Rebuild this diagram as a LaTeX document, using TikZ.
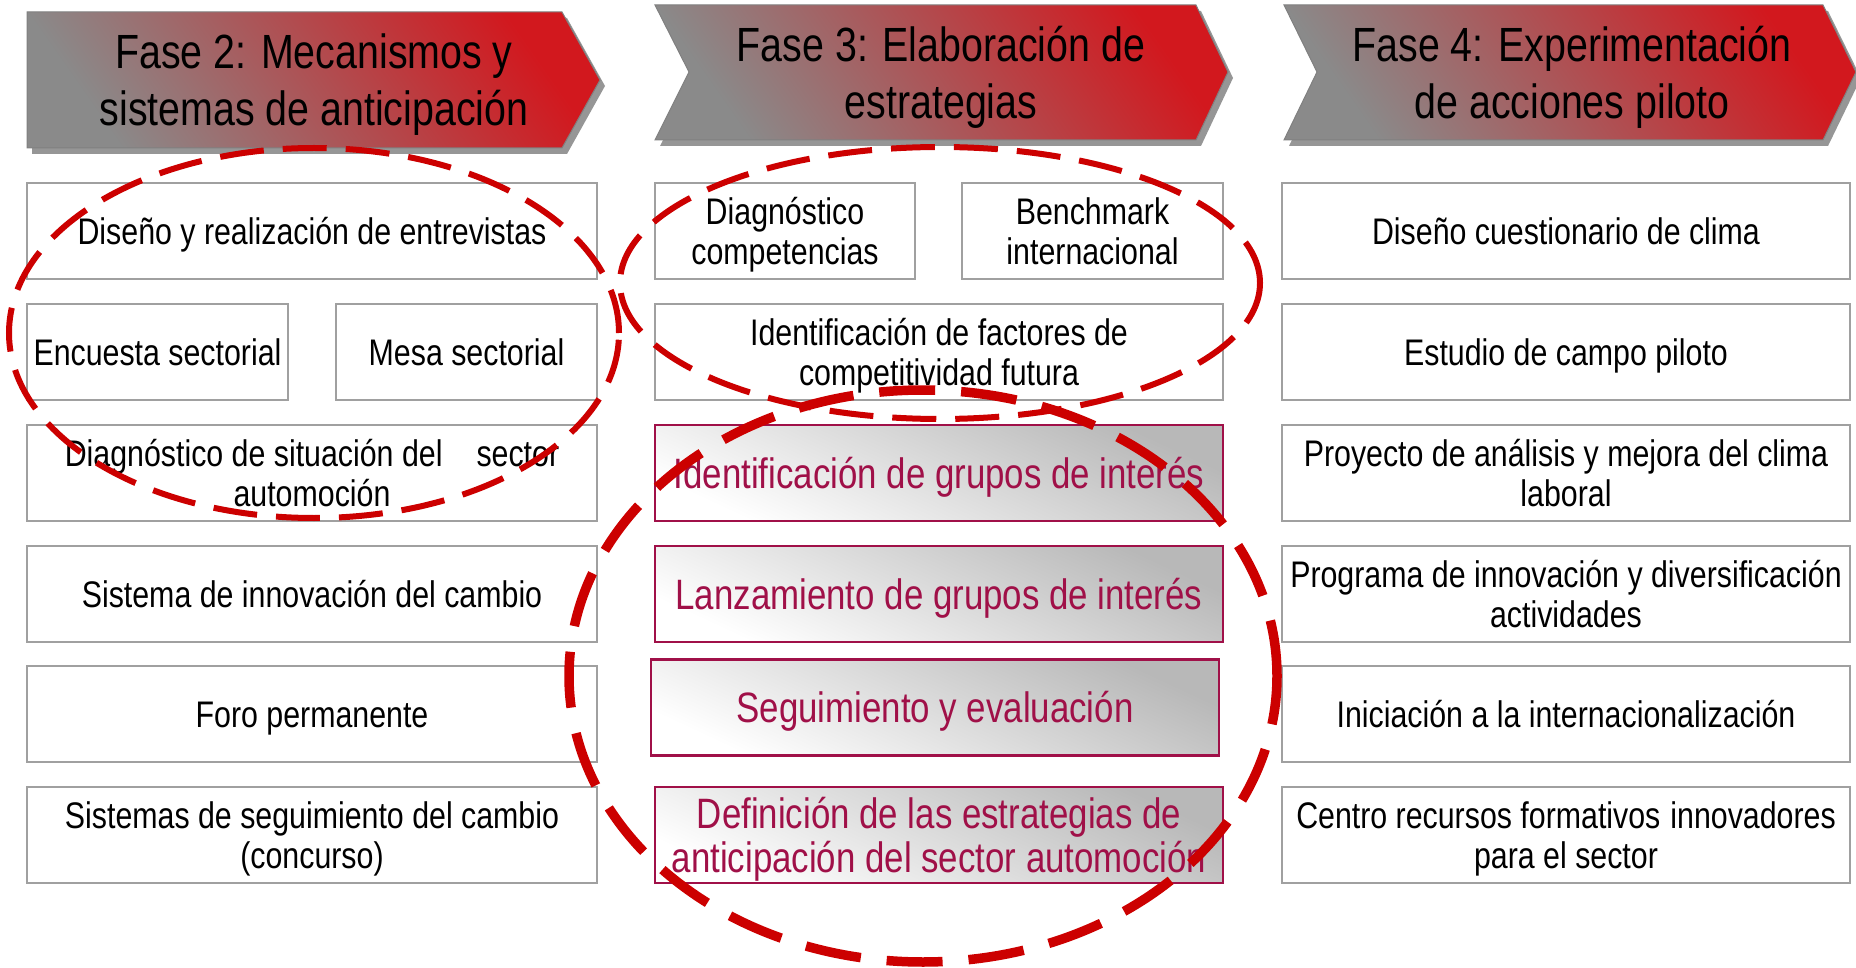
\documentclass[tikz,border=0pt]{standalone}
\usepackage{fontspec}
\setmainfont{Liberation Sans}[FakeStretch=0.82]
\definecolor{hred}{RGB}{210,24,30}
\definecolor{hgray}{RGB}{138,138,138}
\definecolor{hshadow}{RGB}{150,150,150}
\definecolor{bordgray}{RGB}{160,160,160}
\definecolor{ered}{RGB}{204,0,0}
\definecolor{wine}{RGB}{160,16,72}
\newcommand\hfont{\fontsize{48}{57}\selectfont}
\newcommand\bfont{\fontsize{37}{39.5}\selectfont}
\newcommand\rfont{\fontsize{42.5}{44}\selectfont}
\begin{document}
\begin{tikzpicture}[x=1pt,y=-1pt,
  gbox/.style={draw=bordgray, line width=2.2pt, fill=white, align=center, inner sep=0pt, font=\bfont, minimum height=96pt, text depth=0pt},
  rbox/.style={draw=wine, line width=2.5pt, top color=black!28, bottom color=white, shading angle=-25, text=wine, align=center, inner sep=0pt, font=\rfont, minimum height=96pt, minimum width=568pt, text depth=0pt},
  oneline/.style={text height=26.5pt, text depth=0pt},
  onered/.style={text height=30.4pt, text depth=0pt},
  hshape/.style={draw=black!50, line width=1pt, top color=hred, bottom color=hgray, shading angle=-55},
  hsh/.style={fill=hshadow},
  htext/.style={align=center, font=\hfont, inner sep=0pt},
  ell/.style={draw=ered, line width=6pt, dash pattern=on 44pt off 19pt},
  ellbig/.style={draw=ered, line width=9.5pt, dash pattern=on 56pt off 26pt}
]
\useasboundingbox (0,0) rectangle (1856,968);

% headers
\fill[hsh] (32,18) -- (567,18) -- (605,86) -- (567,154) -- (32,154) -- cycle;
\shadedraw[hshape] (27,12) -- (562,12) -- (600,80) -- (562,148) -- (27,148) -- cycle;
\node[htext] (f2) at (314,85) {Fase 2: Mecanismos y\\sistemas de anticipación};

\fill[hsh] (660,11) -- (1201,11) -- (1233,78) -- (1201,146) -- (660,146) -- (694,78) -- cycle;
\shadedraw[hshape] (655,5) -- (1196,5) -- (1228,72) -- (1196,140) -- (655,140) -- (689,72) -- cycle;
\node[htext] (f3) at (941,77) {Fase 3: Elaboración de\\estrategias};

\fill[hsh] (1289,11) -- (1828,11) -- (1861,78) -- (1828,146) -- (1289,146) -- (1322,78) -- cycle;
\shadedraw[hshape] (1284,5) -- (1823,5) -- (1856,72) -- (1823,140) -- (1284,140) -- (1317,72) -- cycle;
\node[htext] (f4) at (1572,77) {Fase 4: Experimentación\\de acciones piloto};

% column 1
\node[gbox, oneline, minimum width=570pt] (c1r1) at (312,231) {Diseño y realización de entrevistas};
\node[gbox, oneline, minimum width=261pt] (c1r2a) at (157.5,352) {Encuesta sectorial};
\node[gbox, oneline, minimum width=261pt] (c1r2b) at (466.5,352) {Mesa sectorial};
\node[gbox, minimum width=570pt] (c1r3) at (312,473) {Diagnóstico de situación del\hspace{34pt}sector\\automoción};
\node[gbox, oneline, minimum width=570pt] (c1r4) at (312,594) {Sistema de innovación del cambio};
\node[gbox, oneline, minimum width=570pt] (c1r5) at (312,714) {Foro permanente};
\node[gbox, minimum width=570pt] (c1r6) at (312,835) {Sistemas de seguimiento del cambio\\(concurso)};

% column 2
\node[gbox, minimum width=260pt] (c2r1a) at (785,231) {Diagnóstico\\competencias};
\node[gbox, minimum width=261pt] (c2r1b) at (1092.5,231) {Benchmark\\internacional};
\node[gbox, minimum width=568pt] (c2r2) at (939,352) {Identificación de factores de\\competitividad futura};
\node[rbox, onered] (c2r3) at (939,473) {Identificación de grupos de interés};
\node[rbox, onered] (c2r4) at (939,594) {Lanzamiento de grupos de interés};
\node[rbox, onered] (c2r5) at (935,707.5) {Seguimiento y evaluación};
\node[rbox] (c2r6) at (939,835) {Definición de las estrategias de\\anticipación del sector automoción};

% column 3
\node[gbox, oneline, minimum width=568pt] (c3r1) at (1566,231) {Diseño cuestionario de clima};
\node[gbox, oneline, minimum width=568pt] (c3r2) at (1566,352) {Estudio de campo piloto};
\node[gbox, minimum width=568pt] (c3r3) at (1566,473) {Proyecto de análisis y mejora del clima\\laboral};
\node[gbox, minimum width=568pt] (c3r4) at (1566,594) {Programa de innovación y diversificación\\actividades};
\node[gbox, oneline, minimum width=568pt] (c3r5) at (1566,714) {Iniciación a la internacionalización};
\node[gbox, minimum width=568pt] (c3r6) at (1566,835) {Centro recursos formativos\hspace{10pt}innovadores\\para el sector};

% dashed ellipses
\draw[ell] (314,333) ellipse [x radius=305pt, y radius=185pt];
\draw[ell] (940,283) ellipse [x radius=320pt, y radius=136pt];
\draw[ellbig] (923,676) ellipse [x radius=354pt, y radius=286pt];
\end{tikzpicture}
\end{document}
